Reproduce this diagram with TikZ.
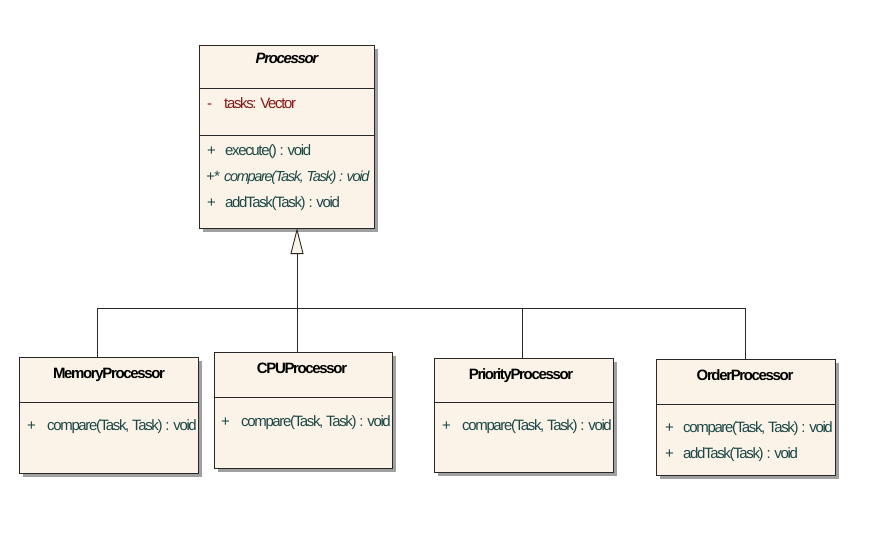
\documentclass[tikz,border=0pt]{standalone}
\usepackage{fontspec}
\setmainfont{Liberation Sans}[LetterSpace=-9]
\usetikzlibrary{arrows.meta,shadows}
\definecolor{boxfill}{RGB}{251,243,231}
\definecolor{boxline}{RGB}{40,40,40}
\definecolor{optext}{RGB}{28,72,72}
\definecolor{attrtext}{RGB}{135,25,25}
\definecolor{shadowgray}{RGB}{160,160,160}
\begin{document}
\begin{tikzpicture}[x=1pt,y=-1pt,font=\fontsize{15}{17}\selectfont,
  umlbox/.style={draw=boxline, line width=0.9pt, fill=boxfill, inner sep=0pt, outer sep=0pt,
    anchor=north west, drop shadow={shadow xshift=4pt, shadow yshift=-4pt, fill=shadowgray, opacity=1}},
  sepline/.style={draw=boxline, line width=0.9pt},
  conn/.style={draw=boxline, line width=0.9pt},
  titletext/.style={anchor=base, inner sep=0pt, font=\fontsize{15}{17}\selectfont\bfseries, text=black},
  optxt/.style={anchor=base west, inner sep=0pt, text=optext},
  attrtxt/.style={anchor=base west, inner sep=0pt, text=attrtext}]
\useasboundingbox (0,0) rectangle (869,555);

% boxes
\node[umlbox, minimum width=175pt, minimum height=183pt] (proc) at (199,45) {};
\node[umlbox, minimum width=179pt, minimum height=116pt] (mem) at (19,357) {};
\node[umlbox, minimum width=178pt, minimum height=116pt] (cpu) at (214,352) {};
\node[umlbox, minimum width=179pt, minimum height=114pt] (prio) at (434,358) {};
\node[umlbox, minimum width=179pt, minimum height=116pt] (order) at (656,359) {};

% separators
\draw[sepline] (proc.west |- 0,88) -- (proc.east |- 0,88);
\draw[sepline] (proc.west |- 0,135) -- (proc.east |- 0,135);
\draw[sepline] (mem.west |- 0,402) -- (mem.east |- 0,402);
\draw[sepline] (cpu.west |- 0,397) -- (cpu.east |- 0,397);
\draw[sepline] (prio.west |- 0,402) -- (prio.east |- 0,402);
\draw[sepline] (order.west |- 0,404) -- (order.east |- 0,404);

% Processor texts
\node[titletext, font=\fontsize{15}{17}\selectfont\bfseries\itshape] (ptitle) at (287,63) {Processor};
\node[attrtxt] (pa0) at (207,108) {-};
\node[attrtxt] (pa1) at (224,108) {tasks: Vector};
\node[optxt] (pm1s) at (207,155) {+};
\node[optxt] (pm1) at (225,155) {execute() : void};
\node[optxt, font=\fontsize{15}{17}\selectfont\itshape] (pm2s) at (206,181) {+*};
\node[optxt, font=\fontsize{14.5}{17}\selectfont\itshape] (pm2) at (224,181) {compare(Task, Task) : void};
\node[optxt] (pm3s) at (207,207) {+};
\node[optxt] (pm3) at (225,207) {addTask(Task) : void};

% MemoryProcessor
\node[titletext] (mtitle) at (109,378) {MemoryProcessor};
\node[optxt] (mm1s) at (27,430) {+};
\node[optxt] (mm1) at (47,430) {compare(Task, Task) : void};

% CPUProcessor
\node[titletext] (ctitle) at (302,373) {CPUProcessor};
\node[optxt] (cm1s) at (221,426) {+};
\node[optxt] (cm1) at (241,426) {compare(Task, Task) : void};

% PriorityProcessor
\node[titletext] (rtitle) at (521,379) {PriorityProcessor};
\node[optxt] (rm1s) at (442,430) {+};
\node[optxt] (rm1) at (462,430) {compare(Task, Task) : void};

% OrderProcessor
\node[titletext] (otitle) at (745,380) {OrderProcessor};
\node[optxt] (om1s) at (665,432) {+};
\node[optxt] (om1) at (683,432) {compare(Task, Task) : void};
\node[optxt] (om2s) at (665,458) {+};
\node[optxt] (om2) at (683,458) {addTask(Task) : void};

% connectors
\coordinate (jm) at (97,308);
\coordinate (jc) at (297,308);
\coordinate (jp) at (522,308);
\coordinate (jo) at (745,308);
\draw[conn] (jm |- mem.north) -- (jm) -- (jo) -- (jo |- order.north);
\draw[conn] (jp) -- (jp |- prio.north);
\draw[conn, -{Triangle[length=26pt, width=13pt, fill=boxfill]}] (jc |- cpu.north) -- (jc |- proc.south);
\end{tikzpicture}
\end{document}
